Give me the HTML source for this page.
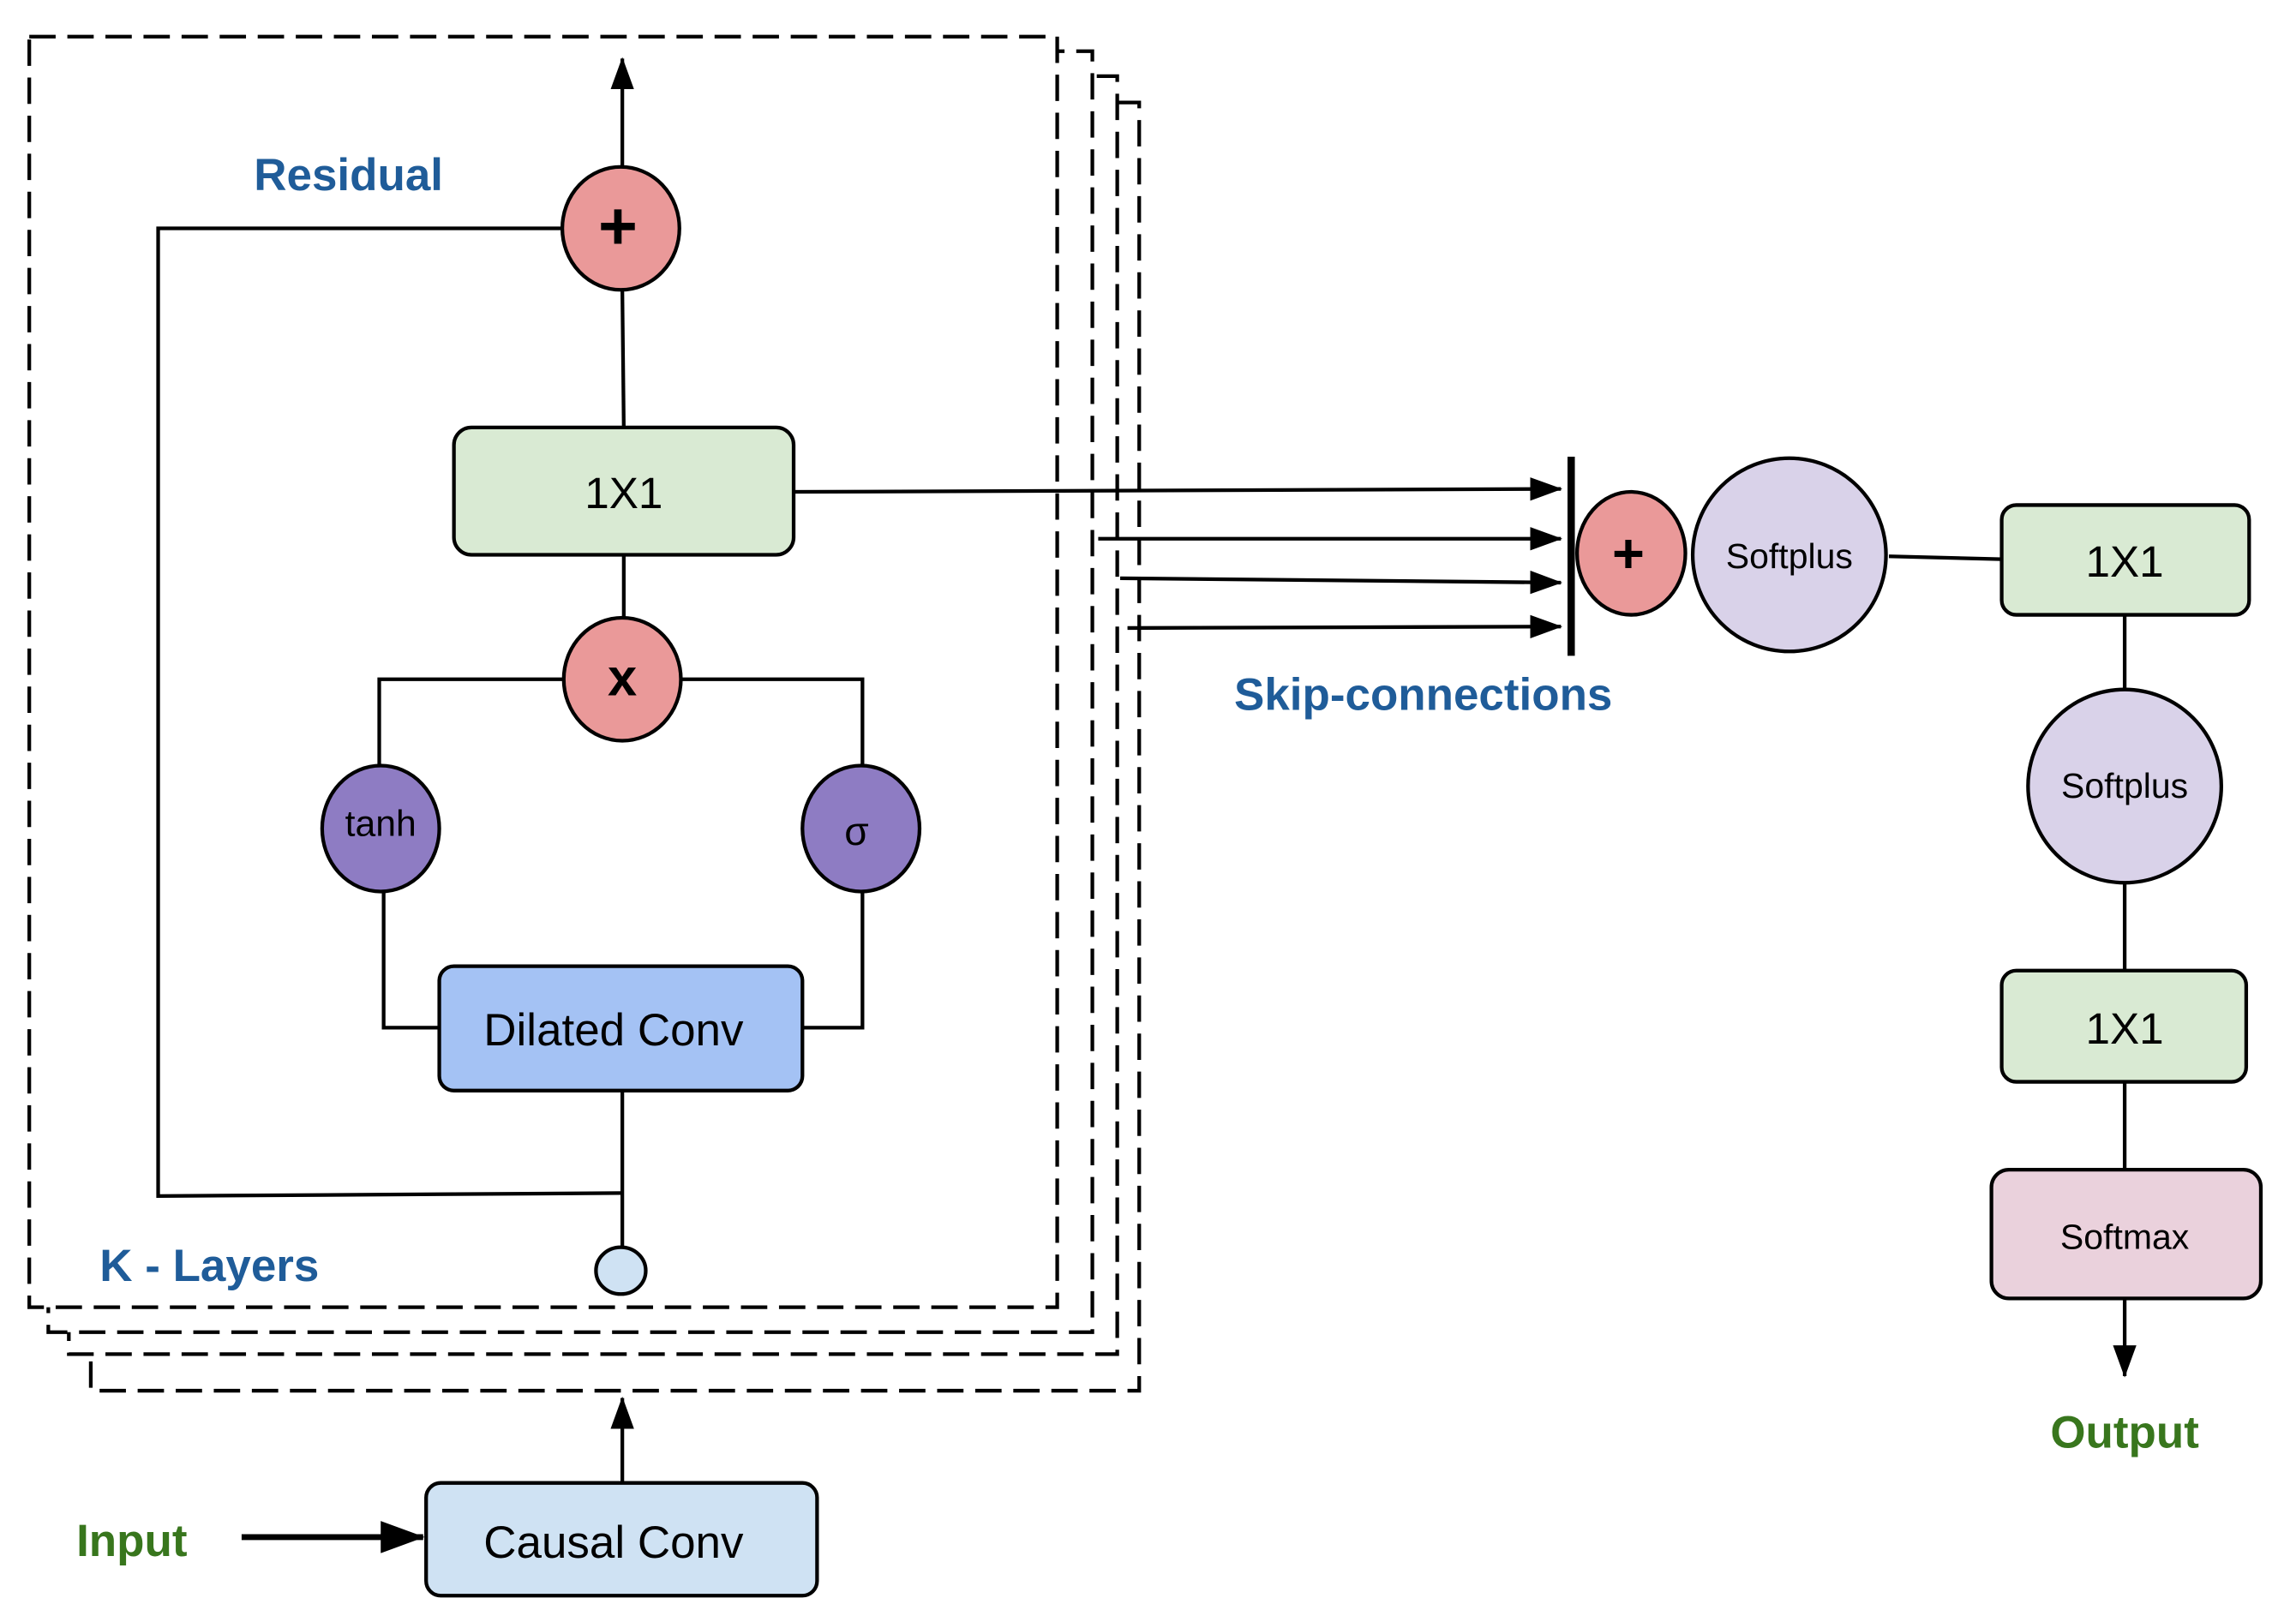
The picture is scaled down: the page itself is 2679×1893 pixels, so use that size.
<!DOCTYPE html>
<html><head><meta charset="utf-8"><style>html,body{margin:0;padding:0;background:#fff}svg{display:block}</style></head>
<body>
<svg width="2679" height="1893" viewBox="0 0 1568 1108" preserveAspectRatio="none" xmlns="http://www.w3.org/2000/svg" font-family="Liberation Sans, sans-serif">
<defs>
<marker id="ahb" markerWidth="30" markerHeight="22" refX="29" refY="11" orient="auto" markerUnits="userSpaceOnUse"><path d="M0,0 L30,11 L0,22 Z" fill="#000"/></marker>
<marker id="ahs" markerWidth="22" markerHeight="16" refX="21" refY="8" orient="auto" markerUnits="userSpaceOnUse"><path d="M0,0 L22,8 L0,16 Z" fill="#000"/></marker>
</defs>
<g fill="#fff" stroke="#000" stroke-width="2.5" stroke-dasharray="18,8">
<rect x="62" y="70" width="716" height="880"/>
<rect x="47" y="52" width="716" height="873"/>
<rect x="33" y="35" width="713" height="875"/>
<rect x="20" y="25" width="702" height="868"/>
</g>
<g stroke="#000" stroke-width="2.5" fill="none">
<line x1="425" y1="113" x2="425" y2="40" marker-end="url(#ahs)"/>
<polyline points="385,156 108,156 108,817 425,815"/>
<line x1="425" y1="198" x2="426" y2="292"/>
<line x1="426" y1="379" x2="426" y2="422"/>
<polyline points="385,464 259,464 259,523"/>
<polyline points="465,464 589,464 589,523"/>
<polyline points="262,609 262,702 300,702"/>
<polyline points="589,609 589,702 548,702"/>
<line x1="425" y1="745" x2="425" y2="852"/>
<line x1="425" y1="1013" x2="425" y2="955" marker-end="url(#ahs)"/>
<line x1="165" y1="1050" x2="289" y2="1050" stroke-width="4" marker-end="url(#ahb)"/>
<line x1="542" y1="336" x2="1066" y2="334" marker-end="url(#ahs)"/>
<line x1="750" y1="368" x2="1066" y2="368" marker-end="url(#ahs)"/>
<line x1="765" y1="395" x2="1066" y2="398" marker-end="url(#ahs)"/>
<line x1="770" y1="429" x2="1066" y2="428" marker-end="url(#ahs)"/>
<line x1="1073" y1="312" x2="1073" y2="448" stroke-width="5"/>
<line x1="1290" y1="380" x2="1367" y2="382"/>
<line x1="1451" y1="420" x2="1451" y2="471"/>
<line x1="1451" y1="603" x2="1451" y2="663"/>
<line x1="1451" y1="739" x2="1451" y2="799"/>
<line x1="1451" y1="887" x2="1451" y2="940" marker-end="url(#ahs)"/>
</g>
<g stroke="#000" stroke-width="2.5">
<ellipse cx="424" cy="156" rx="40" ry="42" fill="#ea9999"/>
<rect x="310" y="292" width="232" height="87" rx="12" fill="#d9ead3"/>
<ellipse cx="425" cy="464" rx="40" ry="42" fill="#ea9999"/>
<ellipse cx="260" cy="566" rx="40" ry="43" fill="#8e7cc3"/>
<ellipse cx="588" cy="566" rx="40" ry="43" fill="#8e7cc3"/>
<rect x="300" y="660" width="248" height="85" rx="10" fill="#a4c2f4"/>
<ellipse cx="424" cy="868" rx="17" ry="16" fill="#cfe2f3"/>
<rect x="291" y="1013" width="267" height="77" rx="10" fill="#cfe2f3"/>
<ellipse cx="1114" cy="378" rx="37" ry="42" fill="#ea9999"/>
<circle cx="1222" cy="379" r="66" fill="#d9d2e9"/>
<rect x="1367" y="345" width="169" height="75" rx="10" fill="#d9ead3"/>
<circle cx="1451" cy="537" r="66" fill="#d9d2e9"/>
<rect x="1367" y="663" width="167" height="76" rx="10" fill="#d9ead3"/>
<rect x="1360" y="799" width="184" height="88" rx="12" fill="#ead1dc"/>
</g>
<g text-anchor="middle" font-size="30" fill="#000">
<text x="426" y="347">1X1</text>
<text x="419" y="714" font-size="31">Dilated Conv</text>
<text x="419" y="1064" font-size="31">Causal Conv</text>
<text x="1451" y="394">1X1</text>
<text x="1451" y="713">1X1</text>
<text x="260" y="571" font-size="25">tanh</text>
<text x="585" y="577" font-size="27">σ</text>
<text x="1222" y="388" font-size="24">Softplus</text>
<text x="1451" y="545" font-size="24">Softplus</text>
<text x="1451" y="853" font-size="24">Softmax</text>
<text x="422" y="170" font-size="46" font-weight="bold">+</text>
<text x="425" y="475" font-size="36" font-weight="bold">x</text>
<text x="1112" y="391" font-size="38" font-weight="bold">+</text>
</g>
<g font-weight="bold" font-size="31" text-anchor="middle">
<text x="238" y="130" fill="#1f5c99">Residual</text>
<text x="143" y="875" fill="#1f5c99">K - Layers</text>
<text x="972" y="485" fill="#1f5c99">Skip-connections</text>
<text x="90" y="1063" fill="#38761d">Input</text>
<text x="1451" y="989" fill="#38761d">Output</text>
</g>
</svg>
</body></html>
